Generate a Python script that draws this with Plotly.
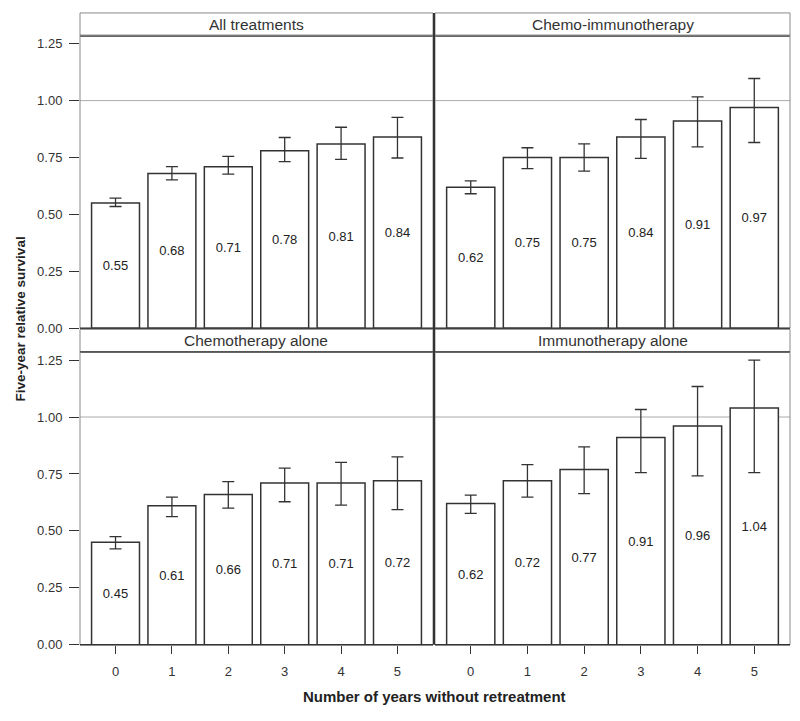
import plotly.graph_objects as go

# ---------------- data ----------------
years = [0, 1, 2, 3, 4, 5]
panel_titles = ["All treatments", "Chemo-immunotherapy", "Chemotherapy alone", "Immunotherapy alone"]

all_val = [0.55, 0.68, 0.71, 0.78, 0.81, 0.84]
all_lo = [0.535, 0.652, 0.677, 0.732, 0.742, 0.748]
all_hi = [0.572, 0.710, 0.755, 0.838, 0.883, 0.926]

chemoimm_val = [0.62, 0.75, 0.75, 0.84, 0.91, 0.97]
chemoimm_lo = [0.591, 0.701, 0.690, 0.746, 0.797, 0.816]
chemoimm_hi = [0.648, 0.793, 0.810, 0.917, 1.016, 1.097]

chemo_val = [0.45, 0.61, 0.66, 0.71, 0.71, 0.72]
chemo_lo = [0.421, 0.563, 0.600, 0.628, 0.613, 0.593]
chemo_hi = [0.475, 0.648, 0.716, 0.776, 0.801, 0.825]

imm_val = [0.62, 0.72, 0.77, 0.91, 0.96, 1.04]
imm_lo = [0.577, 0.648, 0.664, 0.756, 0.742, 0.756]
imm_hi = [0.657, 0.791, 0.869, 1.033, 1.134, 1.250]

y_ticks = [0.0, 0.25, 0.5, 0.75, 1.0, 1.25]
reference_value = 1.0

# ---------------- layout helpers ----------------
OFF = 8  # default page body margin
W, H = 800 - OFF, 721 - OFF
def fx(p):
    return (p - OFF) / W
def fy(p):
    return 1 - (p - OFF) / H

cols = [(80, 433), (435, 790)]
rows = [(36, 332), (356, 652)]
strips = [(13, 36), (333, 356)]

DARK = "#333333"
FONT = "Liberation Sans, Arial, sans-serif"
NARROW = "Liberation Sans Narrow, Arial Narrow, Liberation Sans, sans-serif"

panels = [
    (all_val, all_lo, all_hi, 0, 0),
    (chemoimm_val, chemoimm_lo, chemoimm_hi, 0, 1),
    (chemo_val, chemo_lo, chemo_hi, 1, 0),
    (imm_val, imm_lo, imm_hi, 1, 1),
]

fig = go.Figure()
layout = dict(
    width=W, height=H,
    margin=dict(l=0, r=0, t=0, b=0),
    paper_bgcolor="white", plot_bgcolor="white",
    showlegend=False,
    font=dict(family=FONT, color=DARK, size=12),
)
shapes = []
annotations = []

for i, (val, lo, hi, r, c) in enumerate(panels):
    k = i + 1
    xa = "x" if k == 1 else f"x{k}"
    ya = "y" if k == 1 else f"y{k}"
    plus = [h - v for h, v in zip(hi, val)]
    minus = [v - l for v, l in zip(val, lo)]
    fig.add_trace(go.Bar(
        x=years, y=val, width=0.85,
        marker=dict(color="white", line=dict(color=DARK, width=1.5)),
        error_y=dict(type="data", symmetric=False, array=plus, arrayminus=minus,
                     color=DARK, thickness=1.3, width=6),
        text=[f"{v:.2f}" for v in val],
        textposition="inside", insidetextanchor="middle", textangle=0,
        textfont=dict(size=13, color="#222222", family=FONT),
        constraintext="none",
        xaxis=xa, yaxis=ya, hoverinfo="skip",
    ))
    x0, x1 = cols[c]
    y0, y1 = rows[r]
    xkey = "xaxis" if k == 1 else f"xaxis{k}"
    ykey = "yaxis" if k == 1 else f"yaxis{k}"
    layout[xkey] = dict(
        domain=[fx(x0), fx(x1)], range=[-0.63, 5.63], anchor=ya,
        tickmode="array", tickvals=years,
        showticklabels=(r == 1), ticks="outside" if r == 1 else "",
        ticklen=8, tickcolor=DARK, tickwidth=1, ticklabelstandoff=7,
        tickfont=dict(size=13, color=DARK),
        showgrid=False, zeroline=False, showline=False, fixedrange=True,
    )
    layout[ykey] = dict(
        domain=[fy(y1), fy(y0)], range=[0, 1.285], anchor=xa,
        tickmode="array", tickvals=y_ticks, tickformat=".2f",
        showticklabels=(c == 0), ticks="outside" if c == 0 else "",
        ticklen=10, tickcolor=DARK, tickwidth=1, ticklabelstandoff=4,
        tickfont=dict(size=13, color=DARK),
        showgrid=False, zeroline=False, showline=False, fixedrange=True,
    )
    # reference line at 1.00
    shapes.append(dict(type="line", xref=f"{xa} domain", yref=ya,
                       x0=0, x1=1, y0=reference_value, y1=reference_value,
                       line=dict(color="#aaaaaa", width=1), layer="below"))
    # strip box
    s0, s1 = strips[r]
    shapes.append(dict(type="rect", xref="paper", yref="paper",
                       x0=fx(x0), x1=fx(x1), y0=fy(s1), y1=fy(s0),
                       line=dict(color="#8a8a8a", width=1), fillcolor="white"))
    # thick line under strip
    shapes.append(dict(type="line", xref="paper", yref="paper",
                       x0=fx(x0), x1=fx(x1), y0=fy(s1), y1=fy(s1),
                       line=dict(color=DARK, width=2)))
    # panel outer border (gray)
    shapes.append(dict(type="rect", xref="paper", yref="paper",
                       x0=fx(x0), x1=fx(x1), y0=fy(y1), y1=fy(y0),
                       line=dict(color="#8a8a8a", width=1)))
    # bottom axis line (dark)
    shapes.append(dict(type="line", xref="paper", yref="paper",
                       x0=fx(x0), x1=fx(x1), y0=fy(y1), y1=fy(y1),
                       line=dict(color=DARK, width=1.6)))
    annotations.append(dict(text=panel_titles[i], xref="paper", yref="paper",
                            x=fx((x0 + x1) / 2), y=fy((s0 + s1) / 2),
                            showarrow=False, xanchor="center", yanchor="middle",
                            font=dict(size=15.5, color=DARK, family=FONT)))

# dark divider between columns
shapes.append(dict(type="line", xref="paper", yref="paper",
                   x0=fx(434), x1=fx(434), y0=fy(652), y1=fy(13),
                   line=dict(color=DARK, width=2)))

annotations.append(dict(text="<b>Number of years without retreatment</b>", xref="paper", yref="paper",
                        x=fx(434), y=fy(704), showarrow=False, xanchor="center", yanchor="middle",
                        font=dict(size=15, color="#222222", family=FONT)))
annotations.append(dict(text="<b>Five-year relative survival</b>", xref="paper", yref="paper",
                        x=fx(20), y=fy(323), showarrow=False, xanchor="center", yanchor="middle",
                        textangle=-90, font=dict(size=13.5, color="#222222", family=NARROW)))

layout["shapes"] = shapes
layout["annotations"] = annotations
fig.update_layout(**layout)
fig.write_html("out.html")
